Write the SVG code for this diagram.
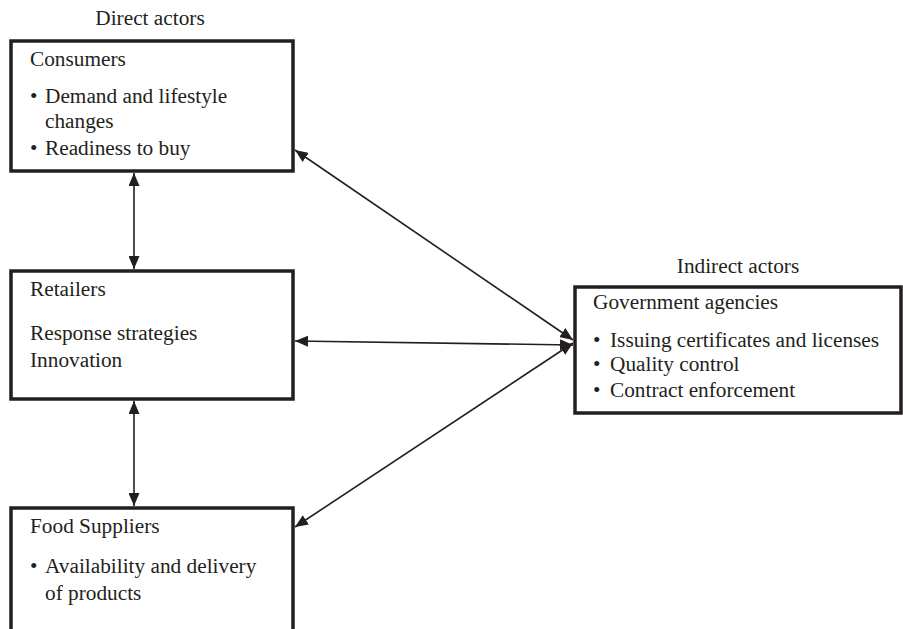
<svg xmlns="http://www.w3.org/2000/svg" width="903" height="629" viewBox="0 0 903 629">
<style>
text{font-family:"Liberation Serif","Times New Roman",serif;font-size:21.3px;fill:#231f20}
.box{fill:#fff;stroke:#231f20;stroke-width:3.5}
.c{stroke:#231f20;stroke-width:1.6;fill:none;marker-start:url(#ah);marker-end:url(#ah)}
</style>
<defs>
<marker id="ah" viewBox="0 0 13 11" refX="13" refY="5.5" markerWidth="13" markerHeight="11" markerUnits="userSpaceOnUse" orient="auto-start-reverse">
<path d="M0,0 L13,5.5 L0,11 Z" fill="#231f20"/>
</marker>
</defs>
<text x="150" y="25" text-anchor="middle">Direct actors</text>
<text x="738" y="273" text-anchor="middle">Indirect actors</text>
<g id="consumers">
<rect class="box" x="11" y="41" width="282" height="130"/>
<text x="30" y="66">Consumers</text>
<text x="30" y="103">•<tspan x="45">Demand and lifestyle</tspan></text>
<text x="45" y="128">changes</text>
<text x="30" y="155">•<tspan x="45">Readiness to buy</tspan></text>
</g>
<g id="retailers">
<rect class="box" x="11" y="271" width="282" height="128"/>
<text x="30" y="296">Retailers</text>
<text x="30" y="340">Response strategies</text>
<text x="30" y="367">Innovation</text>
</g>
<g id="suppliers">
<rect class="box" x="11" y="508" width="282" height="140"/>
<text x="30" y="533">Food Suppliers</text>
<text x="30" y="573">•<tspan x="45">Availability and delivery</tspan></text>
<text x="45" y="600">of products</text>
</g>
<g id="government">
<rect class="box" x="575" y="287" width="326" height="126"/>
<text x="593" y="309">Government agencies</text>
<text x="593" y="347">•<tspan x="610">Issuing certificates and licenses</tspan></text>
<text x="593" y="371">•<tspan x="610">Quality control</tspan></text>
<text x="593" y="397">•<tspan x="610">Contract enforcement</tspan></text>
</g>
<g id="connectors">
<line class="c" x1="134" y1="173" x2="134" y2="269"/>
<line class="c" x1="134" y1="401" x2="134" y2="506"/>
<line class="c" x1="295" y1="150" x2="573" y2="340"/>
<line class="c" x1="295" y1="341" x2="573" y2="345"/>
<line class="c" x1="295" y1="527" x2="573" y2="343"/>
</g>
</svg>
